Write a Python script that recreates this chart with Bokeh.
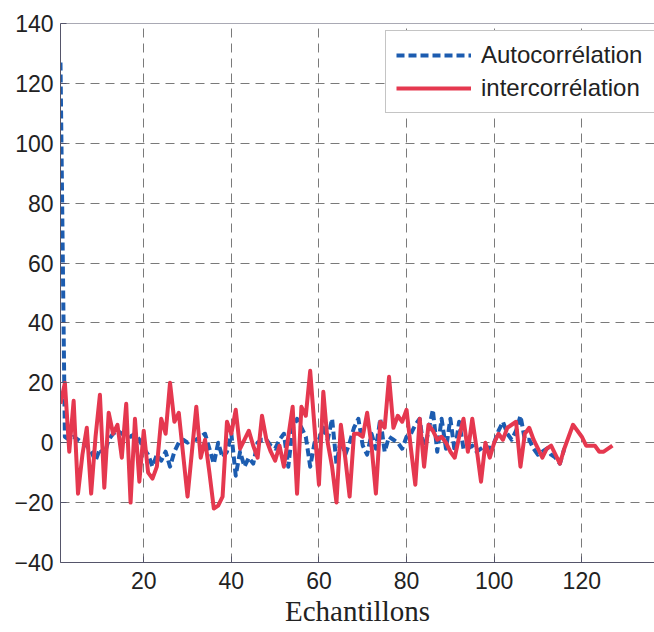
from bokeh.plotting import figure
from bokeh.models import (Range1d, FixedTicker, Legend, LegendItem, Span,
                          ColumnDataSource)
from bokeh.embed import file_html
from bokeh.resources import INLINE

# ---- data ----
auto_vals = [127, 2, 1, 2, 1, 0, -1, -3, -6, -2, -4, 1, 3, 4, 3, 3, 2, 3, 1, -2,
             -4, -8, -4, -6, -3, -8, -3, 0, 1, 0, 1, 1, 2, 3, -2, -7, 0, -5, -3, 3,
             -11, -3, -8, -5, -7, 0, 1, 1, -1, -2, 1, 3, -8, 5, 8, 5, 2, -8, 0, 1,
             5, 1, 8, -7, 1, -4, 0, 5, 8, -1, -4, 3, -2, 8, -3, 2, 1, 0, -2, 2,
             3, 6, 8, -3, 4, 11, -3, 8, -2, 8, -3, 7, -2, -2, -1, -3, -2, -1, -2, 0,
             4, 7, 3, 1, 4, 9, 1, 1, -2, -4, -3, -2, -4, -5, -7, -2]
inter_vals = [13, 20, -3, 14, -17, -4, 5, -17, 2, 16, -15, 10, 3, 6, -5, 13, -20, 8, -13, 4,
              -10, -12, -8, 8, 3, 20, 7, 10, -4, -18, -3, 12, -5, 1, -10, -22, -21, -18, 7, 3,
              11, -2, 1, 4, -1, -5, 9, 1, -3, -6, -1, -8, 2, 12, -17, 12, 9, 24, 5, -14,
              17, 0, -8, -20, 6, -5, -18, 3, 3, 2, 10, -1, -17, 7, 5, 22, 5, 9, 7, 11,
              -2, -14, 8, -8, 6, 4, 1, 2, 0, -3, -5, 2, 8, -3, 8, -2, -13, 0, -5, 0,
              3, 1, 5, 6, 7, -8, 3, 5, 1, -2, -5, -2, -1, -4, -7, -2, 2, 6, 4, 2,
              -1, -1, -1, -3, -3, -2, -1]
auto_x = list(range(1, len(auto_vals) + 1))
inter_x = list(range(1, len(inter_vals) + 1))

x_ticks = [20, 40, 60, 80, 100, 120]
y_ticks = [-40, -20, 0, 20, 40, 60, 80, 100, 120, 140]
series_names = ["Autocorrélation", "intercorrélation"]
x_label = "Echantillons"

BLUE = "#1c5cb0"
RED = "#e5384f"
AXIS = "#55556a"
FONT = "Liberation Sans"

p = figure(width=654, height=632, output_backend="svg", toolbar_location=None,
           x_range=Range1d(1, 136.6), y_range=Range1d(-40, 140),
           min_border_left=60, min_border_top=23, min_border_right=0,
           min_border_bottom=70)
p.outline_line_color = None
p.background_fill_color = "white"
p.border_fill_color = "white"

for ax, ticks in ((p.xaxis[0], x_ticks), (p.yaxis[0], y_ticks)):
    ax.ticker = FixedTicker(ticks=ticks)
    ax.minor_tick_line_color = None
    ax.major_tick_in = 6
    ax.major_tick_out = 0
    ax.axis_line_color = AXIS
    ax.major_tick_line_color = AXIS
    ax.major_label_text_font = FONT
    ax.major_label_text_font_size = "23px"
    ax.major_label_text_color = "#222222"

p.yaxis.major_label_standoff = 7
p.xaxis.major_label_standoff = 9
p.xaxis.axis_label = x_label
p.xaxis.axis_label_text_font = "Liberation Serif"
p.xaxis.axis_label_text_font_style = "normal"
p.xaxis.axis_label_text_font_size = "29px"
p.xaxis.axis_label_text_color = "#222222"
p.xaxis.axis_label_standoff = 3

# top border of the box
p.add_layout(Span(location=y_ticks[-1], dimension="width",
                  line_color=AXIS, line_width=1))

p.xgrid.ticker = FixedTicker(ticks=x_ticks)
p.ygrid.ticker = FixedTicker(ticks=y_ticks)
for g in (p.xgrid[0], p.ygrid[0]):
    g.grid_line_color = "#7a7a7a"
    g.grid_line_dash = "9 6"
    g.grid_line_width = 1

src_a = ColumnDataSource(dict(x=auto_x, y=auto_vals))
src_i = ColumnDataSource(dict(x=inter_x, y=inter_vals))
r_a = p.line("x", "y", source=src_a, line_color=BLUE, line_width=4,
             line_dash="8 4", line_join="round")
r_i = p.line("x", "y", source=src_i, line_color=RED, line_width=4,
             line_join="round")

legend = Legend(items=[LegendItem(label=series_names[0], renderers=[r_a]),
                       LegendItem(label=series_names[1], renderers=[r_i])],
                location=(325, 449), orientation="vertical")
legend.label_text_font = FONT
legend.label_text_font_size = "24px"
legend.label_text_color = "#222222"
legend.glyph_width = 75
legend.glyph_height = 28
legend.label_height = 28
legend.label_width = 185
legend.label_standoff = 10
legend.spacing = 5
legend.padding = 10
legend.margin = 0
legend.border_line_color = "#8a8a8a"
legend.border_line_width = 1
legend.background_fill_color = "white"
legend.background_fill_alpha = 1.0
p.add_layout(legend, "center")

open("out.html", "w").write(file_html(p, INLINE))
